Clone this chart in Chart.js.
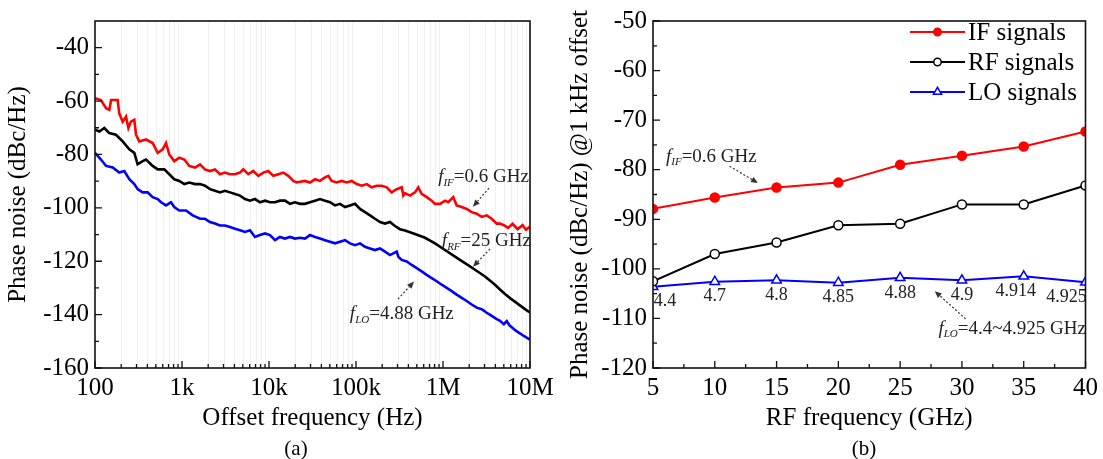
<!DOCTYPE html>
<html>
<head>
<meta charset="utf-8">
<script src="https://cdn.jsdelivr.net/npm/chart.js@4.4.1/dist/chart.umd.min.js"></script>
<style>
  html, body { margin: 0; padding: 0; background: #fff; }
  #wrap { position: relative; width: 1103px; height: 459px; overflow: hidden; background: #fff; }
  #panel-a { position: absolute; left: 0; top: 0; }
  #panel-b { position: absolute; left: 560px; top: 0; }
  .tag { position: absolute; top: 436px; font: 21px/24px 'Liberation Serif', 'Times New Roman', serif; transform: translateX(-50%); color: #000; }
</style>
</head>
<body>
<div id="wrap">
  <canvas id="panel-a" width="560" height="459"></canvas>
  <canvas id="panel-b" width="543" height="459"></canvas>
  <div class="tag" style="left:296px">(a)</div>
  <div class="tag" style="left:864px">(b)</div>
</div>
<script>
const SERIF = "'Liberation Serif', 'Times New Roman', serif";

// --- (a) phase noise spectra ---
const freqIF = [100, 117, 134, 146, 153, 182, 190, 208, 227, 242, 259, 283, 296, 323, 386, 460, 526, 600, 655, 714,
  815, 931, 1063, 1213, 1410, 1610, 1837, 2098, 2394, 2733, 3120, 3562, 4066, 4642, 5070, 5785, 6600, 7535, 8600, 9820,
  11200, 12790, 14590, 16670, 19020, 20800, 22700, 25930, 29600, 33800, 38560, 44030, 48100, 52570, 60000, 68500, 78200, 89300, 101900, 116400,
  132800, 151600, 173000, 197400, 225400, 257200, 293700, 335200, 350000, 365700, 417500, 476600, 520000, 568800, 649800, 741300, 809100, 924700, 1054000, 1151000,
  1313000, 1436000, 1640000, 1872000, 2138000, 2439000, 2786000, 3177000, 3631000, 4141000, 4519000, 5000000, 5600000, 6300000, 7200000, 8200000, 9000000, 10000000];
const noiseIF = [-58.9, -59.6, -62.7, -63.3, -59.6, -59.6, -64.6, -67.7, -65.8, -70.1, -67.7, -67.0, -72.6, -75.1, -74.4, -75.7, -79.4, -78.1, -75.7, -80.0,
  -82.5, -81.2, -81.9, -84.3, -84.9, -83.7, -85.6, -86.2, -85.6, -87.4, -86.8, -87.4, -87.4, -86.8, -85.6, -87.4, -86.2, -88.0, -86.8, -86.2,
  -88.0, -87.4, -86.8, -88.0, -89.9, -90.5, -90.2, -89.9, -90.5, -89.3, -89.9, -88.6, -88.0, -89.9, -90.5, -89.9, -90.5, -89.9, -91.1, -91.7,
  -91.1, -92.3, -91.7, -91.7, -92.3, -94.2, -93.0, -92.3, -95.4, -94.5, -95.4, -94.2, -92.3, -94.8, -96.0, -97.3, -98.5, -98.5, -97.3, -97.9,
  -96.0, -99.1, -99.7, -100.4, -101.6, -102.2, -103.4, -102.8, -104.1, -105.9, -105.9, -106.5, -107.5, -106.0, -108.0, -106.5, -108.2, -107.0];

const freqRF = [100, 112, 128, 146, 174, 208, 248, 283, 309, 353, 386, 460, 526, 626, 714, 815, 931, 1063, 1213, 1410,
  1610, 1837, 2098, 2394, 2733, 3120, 3562, 4066, 4642, 5300, 6050, 6900, 7880, 9000, 10260, 11720, 13370, 15270, 17420, 19900,
  22700, 25930, 29600, 33800, 38560, 44030, 50250, 57400, 65500, 74800, 85300, 97500, 111200, 126900, 144900, 165300, 188800, 215400, 245900, 280700,
  320600, 365700, 476600, 621000, 809100, 1054000, 1374000, 1790000, 2333000, 3040000, 3960000, 4519000, 5200000, 6000000, 7000000, 8000000, 9000000, 10000000];
const noiseRF = [-70.7, -71.4, -70.1, -72.0, -72.6, -75.1, -78.1, -79.4, -83.7, -82.5, -81.9, -84.3, -85.6, -85.6, -87.4, -89.3, -89.9, -91.1, -90.5, -91.1,
  -91.1, -91.7, -93.0, -93.6, -94.2, -93.6, -94.2, -94.8, -95.4, -96.7, -97.3, -96.7, -97.9, -97.3, -97.9, -97.9, -97.3, -97.3, -98.5, -97.9,
  -98.5, -98.5, -97.9, -97.3, -96.7, -97.3, -97.9, -99.1, -98.5, -99.7, -99.1, -98.5, -100.4, -101.6, -102.8, -104.1, -105.3, -105.9, -105.3, -106.8,
  -108.0, -108.5, -109.8, -111.2, -113.3, -115.8, -118.3, -120.7, -123.2, -125.7, -128.8, -130.6, -132.4, -134.0, -135.6, -137.0, -138.2, -139.2];

const freqLO = [100, 117, 134, 160, 190, 217, 248, 283, 309, 353, 403, 460, 526, 574, 655, 747, 815, 931, 1112, 1327,
  1449, 1610, 1837, 2098, 2394, 2733, 3120, 3562, 4066, 4642, 5300, 6050, 6900, 7880, 9000, 10260, 11720, 13370, 15270, 17420,
  19900, 22700, 25930, 29600, 33800, 38560, 44030, 50250, 57400, 65500, 74800, 85300, 97500, 111200, 126900, 144900, 165300, 188800, 215400, 245900,
  293700, 306800, 335200, 382800, 436400, 498800, 568800, 649800, 741300, 847200, 966000, 1104000, 1259000, 1436000, 1640000, 1872000, 2138000, 2439000, 2786000, 3177000,
  3631000, 4141000, 4519000, 5000000, 5400000, 5800000, 7000000, 8500000, 10000000];
const noiseLO = [-79.4, -81.9, -84.3, -84.9, -86.8, -86.2, -89.3, -91.1, -93.0, -94.2, -94.2, -96.0, -96.7, -97.9, -99.1, -97.9, -99.7, -101.0, -101.0, -102.8,
  -103.4, -104.1, -104.1, -105.3, -105.9, -106.6, -106.6, -107.2, -107.8, -108.4, -109.0, -108.4, -110.9, -110.2, -109.6, -110.2, -112.1, -110.9, -111.5, -110.9,
  -111.5, -111.2, -111.5, -110.2, -110.9, -111.5, -112.1, -112.7, -113.3, -112.7, -112.1, -113.3, -114.0, -113.3, -114.6, -115.2, -115.8, -115.2, -116.4, -117.7,
  -116.4, -118.3, -119.5, -120.1, -121.4, -122.6, -123.8, -125.1, -126.3, -127.5, -128.8, -130.0, -131.2, -132.5, -133.7, -134.9, -136.2, -137.4, -138.0, -139.3,
  -140.5, -141.7, -142.3, -143.6, -142.4, -144.0, -146.2, -148.0, -149.4];

const offsetTicks = [100, 1e3, 1e4, 1e5, 1e6, 1e7];
const offsetTickLabels = ['100', '1k', '10k', '100k', '1M', '10M'];
const noiseTicksA = [-160, -140, -120, -100, -80, -60, -40];

// --- (b) noise @1 kHz offset vs RF frequency ---
const rfFreq = [5, 10, 15, 20, 25, 30, 35, 40];
const pnIF = [-87.9, -85.6, -83.6, -82.6, -79.0, -77.2, -75.3, -72.3];
const pnRF = [-102.5, -97.0, -94.7, -91.2, -90.9, -87.0, -87.0, -83.2];
const pnLO = [-103.6, -102.6, -102.3, -102.8, -101.8, -102.3, -101.5, -102.7];
const loFreqLabels = ['4.4', '4.7', '4.8', '4.85', '4.88', '4.9', '4.914', '4.925'];
const rfTicks = [5, 10, 15, 20, 25, 30, 35, 40];
const noiseTicksB = [-120, -110, -100, -90, -80, -70, -60, -50];

function pairs(xs, ys) { return xs.map((x, i) => ({ x: x, y: ys[i] })); }
function midpoints(arr) { return arr.slice(1).map((v, i) => (v + arr[i]) / 2); }

const minorLog = [];
offsetTicks.slice(0, -1).forEach(d => { for (let k = 2; k <= 9; k++) minorLog.push(d * k); });

// f_xx=... label: italic f, italic subscript, then plain text
function drawFLabel(ctx, x, y, sub, rest, size) {
  ctx.save();
  ctx.fillStyle = '#222';
  ctx.textBaseline = 'middle';
  ctx.textAlign = 'left';
  ctx.font = 'italic ' + size + 'px ' + SERIF;
  ctx.fillText('f', x, y);
  let cx = x + ctx.measureText('f').width;
  ctx.font = 'italic ' + Math.round(size * 0.6) + 'px ' + SERIF;
  ctx.fillText(sub, cx, y + size * 0.3);
  cx += ctx.measureText(sub).width;
  ctx.font = size + 'px ' + SERIF;
  ctx.fillText(rest, cx, y);
  ctx.restore();
}

function drawArrow(ctx, x1, y1, x2, y2) {
  const ang = Math.atan2(y2 - y1, x2 - x1);
  const hx = x2 - 7 * Math.cos(ang), hy = y2 - 7 * Math.sin(ang);
  ctx.save();
  ctx.strokeStyle = '#333';
  ctx.fillStyle = '#333';
  ctx.lineWidth = 1.2;
  ctx.setLineDash([2, 2]);
  ctx.beginPath(); ctx.moveTo(x1, y1); ctx.lineTo(hx, hy); ctx.stroke();
  ctx.setLineDash([]);
  ctx.beginPath();
  ctx.moveTo(x2, y2);
  ctx.lineTo(hx + 3 * Math.sin(ang), hy - 3 * Math.cos(ang));
  ctx.lineTo(hx - 3 * Math.sin(ang), hy + 3 * Math.cos(ang));
  ctx.closePath(); ctx.fill();
  ctx.restore();
}

// frame, inward ticks, rotated y title, annotations, legend
function makeDecor(cfg) {
  return {
    id: 'decor',
    beforeDatasetsDraw(chart) {
      if (!cfg.gridX) return;
      const { ctx, chartArea: a } = chart;
      const xs = chart.scales.x;
      ctx.save();
      ctx.strokeStyle = 'rgba(0,0,0,0.06)';
      ctx.lineWidth = 1;
      ctx.beginPath();
      cfg.gridX.forEach(v => {
        const p = Math.round(xs.getPixelForValue(v)) + 0.5;
        ctx.moveTo(p, a.top); ctx.lineTo(p, a.bottom);
      });
      ctx.stroke();
      ctx.restore();
    },
    afterDatasetsDraw(chart) {
      if (!cfg.pointLabels) return;
      const { ctx } = chart;
      const meta = chart.getDatasetMeta(cfg.pointLabels.dataset);
      ctx.save();
      ctx.fillStyle = '#222';
      ctx.font = '18px ' + SERIF;
      ctx.textAlign = 'center';
      ctx.textBaseline = 'middle';
      meta.data.forEach((pt, i) => {
        ctx.fillText(cfg.pointLabels.text[i], pt.x + cfg.pointLabels.dx[i], pt.y + 15);
      });
      ctx.restore();
    },
    afterDraw(chart) {
      const { ctx, chartArea: a } = chart;
      const xs = chart.scales.x, ys = chart.scales.y;
      ctx.save();
      // ticks
      ctx.strokeStyle = '#111';
      ctx.lineWidth = 1.3;
      ctx.beginPath();
      const tick = (vals, len, horiz) => vals.forEach(v => {
        if (horiz) {
          const p = xs.getPixelForValue(v);
          ctx.moveTo(p, a.bottom); ctx.lineTo(p, a.bottom - len);
        } else {
          const p = ys.getPixelForValue(v);
          ctx.moveTo(a.left, p); ctx.lineTo(a.left + len, p);
        }
      });
      tick(cfg.xMajor, 7, true);
      tick(cfg.xMinor, 4, true);
      tick(cfg.yMajor, 7, false);
      tick(cfg.yMinor, 4, false);
      ctx.stroke();
      // frame
      ctx.lineWidth = 1.6;
      ctx.strokeStyle = '#111';
      ctx.strokeRect(a.left, a.top, a.right - a.left, a.bottom - a.top);
      // y title
      ctx.save();
      ctx.translate(cfg.yTitleX, (a.top + a.bottom) / 2);
      ctx.rotate(-Math.PI / 2);
      ctx.fillStyle = '#000';
      ctx.font = '25px ' + SERIF;
      ctx.textAlign = 'center';
      ctx.textBaseline = 'middle';
      ctx.fillText(cfg.yTitle, 0, 0);
      ctx.restore();
      // annotations
      (cfg.notes || []).forEach(n => {
        drawArrow(ctx, xs.getPixelForValue(n.from[0]), ys.getPixelForValue(n.from[1]),
          xs.getPixelForValue(n.to[0]), ys.getPixelForValue(n.to[1]));
        drawFLabel(ctx, xs.getPixelForValue(n.at[0]), ys.getPixelForValue(n.at[1]), n.sub, n.text, 19);
      });
      // legend
      if (cfg.legend) {
        const L = cfg.legend;
        chart.data.datasets.forEach((ds, i) => {
          const y = L.top + i * L.gap;
          ctx.strokeStyle = ds.borderColor;
          ctx.lineWidth = 2;
          ctx.beginPath(); ctx.moveTo(L.left, y); ctx.lineTo(L.left + L.len, y); ctx.stroke();
          ctx.fillStyle = ds.pointBackgroundColor;
          ctx.strokeStyle = ds.borderColor;
          ctx.lineWidth = ds.pointBorderWidth;
          Chart.helpers.drawPoint(ctx, { pointStyle: ds.pointStyle, radius: ds.pointRadius - 0.8, borderWidth: ds.pointBorderWidth, rotation: 0 },
            L.left + L.len / 2, y);
          ctx.fillStyle = '#000';
          ctx.font = '25px ' + SERIF;
          ctx.textAlign = 'left';
          ctx.textBaseline = 'middle';
          ctx.fillText(ds.label, L.left + L.len + 3, y + 1);
        });
      }
      ctx.restore();
    }
  };
}

const tickFont = { family: SERIF, size: 25 };
const titleFont = { family: SERIF, size: 25 };

// ---------- panel (a) ----------
new Chart(document.getElementById('panel-a'), {
  type: 'line',
  data: {
    datasets: [
      { label: 'IF', data: pairs(freqIF, noiseIF), borderColor: '#ff0000', borderWidth: 2.6, pointRadius: 0, tension: 0 },
      { label: 'RF', data: pairs(freqRF, noiseRF), borderColor: '#000000', borderWidth: 2.6, pointRadius: 0, tension: 0 },
      { label: 'LO', data: pairs(freqLO, noiseLO), borderColor: '#0000ff', borderWidth: 2.6, pointRadius: 0, tension: 0 }
    ]
  },
  options: {
    responsive: false,
    animation: false,
    devicePixelRatio: 1,
    layout: { padding: { top: 15, right: 30, bottom: 21, left: 0 } },
    plugins: { legend: { display: false }, tooltip: { enabled: false } },
    scales: {
      x: {
        type: 'logarithmic', min: 100, max: 1e7,
        afterBuildTicks: s => { s.ticks = offsetTicks.map(v => ({ value: v })); },
        afterFit: s => { s.height = 70; },
        ticks: { font: tickFont, color: '#000', padding: 5, maxRotation: 0, autoSkip: false,
          callback: v => offsetTickLabels[offsetTicks.indexOf(v)] },
        grid: { display: false, drawTicks: false },
        border: { display: false },
        title: { display: true, text: 'Offset frequency (Hz)', font: titleFont, color: '#000', padding: { top: 0, bottom: 5 } }
      },
      y: {
        min: -160, max: -30,
        afterBuildTicks: s => { s.ticks = noiseTicksA.map(v => ({ value: v })); },
        afterFit: s => { s.width = 95; },
        ticks: { font: tickFont, color: '#000', padding: 6, callback: v => String(v) },
        grid: { display: false, drawTicks: false },
        border: { display: false }
      }
    }
  },
  plugins: [makeDecor({
    gridX: minorLog,
    xMajor: offsetTicks, xMinor: minorLog,
    yMajor: noiseTicksA, yMinor: midpoints(noiseTicksA),
    yTitle: 'Phase noise (dBc/Hz)', yTitleX: 18,
    notes: [
      { sub: 'IF', text: '=0.6 GHz', at: [8.8e5, -88.6], from: [3.38e6, -92.6], to: [2.21e6, -99.6] },
      { sub: 'RF', text: '=25 GHz', at: [9.7e5, -112.5], from: [3.47e6, -115.4], to: [2.21e6, -122.1] },
      { sub: 'LO', text: '=4.88 GHz', at: [8.5e4, -139.8], from: [3.04e5, -134.2], to: [4.64e5, -127.6] }
    ]
  })]
});

// ---------- panel (b) ----------
new Chart(document.getElementById('panel-b'), {
  type: 'line',
  data: {
    datasets: [
      { label: 'IF signals', data: pairs(rfFreq, pnIF), borderColor: '#ff0000', borderWidth: 2,
        pointStyle: 'circle', pointRadius: 4.5, pointBackgroundColor: '#ff0000', pointBorderColor: '#ff0000', pointBorderWidth: 1.5, tension: 0 },
      { label: 'RF signals', data: pairs(rfFreq, pnRF), borderColor: '#000000', borderWidth: 2,
        pointStyle: 'circle', pointRadius: 4.5, pointBackgroundColor: '#ffffff', pointBorderColor: '#000000', pointBorderWidth: 1.5, tension: 0 },
      { label: 'LO signals', data: pairs(rfFreq, pnLO), borderColor: '#0000ff', borderWidth: 2,
        pointStyle: 'triangle', pointRadius: 5.5, pointBackgroundColor: '#ffffff', pointBorderColor: '#0000ff', pointBorderWidth: 1.5, tension: 0 }
    ]
  },
  options: {
    responsive: false,
    animation: false,
    devicePixelRatio: 1,
    layout: { padding: { top: 15, right: 15, bottom: 21, left: 0 } },
    plugins: { legend: { display: false }, tooltip: { enabled: false } },
    scales: {
      x: {
        type: 'linear', min: 5, max: 40,
        afterBuildTicks: s => { s.ticks = rfTicks.map(v => ({ value: v })); },
        afterFit: s => { s.height = 70; },
        ticks: { font: tickFont, color: '#000', padding: 5, maxRotation: 0, autoSkip: false, callback: v => String(v) },
        grid: { display: false, drawTicks: false },
        border: { display: false },
        title: { display: true, text: 'RF frequency (GHz)', font: titleFont, color: '#000', padding: { top: 0, bottom: 5 } }
      },
      y: {
        min: -120, max: -50,
        afterBuildTicks: s => { s.ticks = noiseTicksB.map(v => ({ value: v })); },
        afterFit: s => { s.width = 93; },
        ticks: { font: tickFont, color: '#000', padding: 6, callback: v => String(v) },
        grid: { display: false, drawTicks: false },
        border: { display: false }
      }
    }
  },
  plugins: [makeDecor({
    xMajor: rfTicks, xMinor: midpoints(rfTicks),
    yMajor: noiseTicksB, yMinor: midpoints(noiseTicksB),
    yTitle: 'Phase noise (dBc/Hz) @1 kHz offset', yTitleX: 20,
    notes: [
      { sub: 'IF', text: '=0.6 GHz', at: [6.05, -77.4], from: [11.2, -79.3], to: [13.5, -82.7] },
      { sub: 'LO', text: '=4.4~4.925 GHz', at: [28.1, -112.1], from: [30.3, -110.1], to: [27.8, -104.5] }
    ],
    pointLabels: { dataset: 2, text: loFreqLabels, dx: [12, 0, 0, 0, 0, 0, -8, -19] },
    legend: { left: 350, top: 32, gap: 30, len: 55 }
  })]
});
</script>
</body>
</html>
